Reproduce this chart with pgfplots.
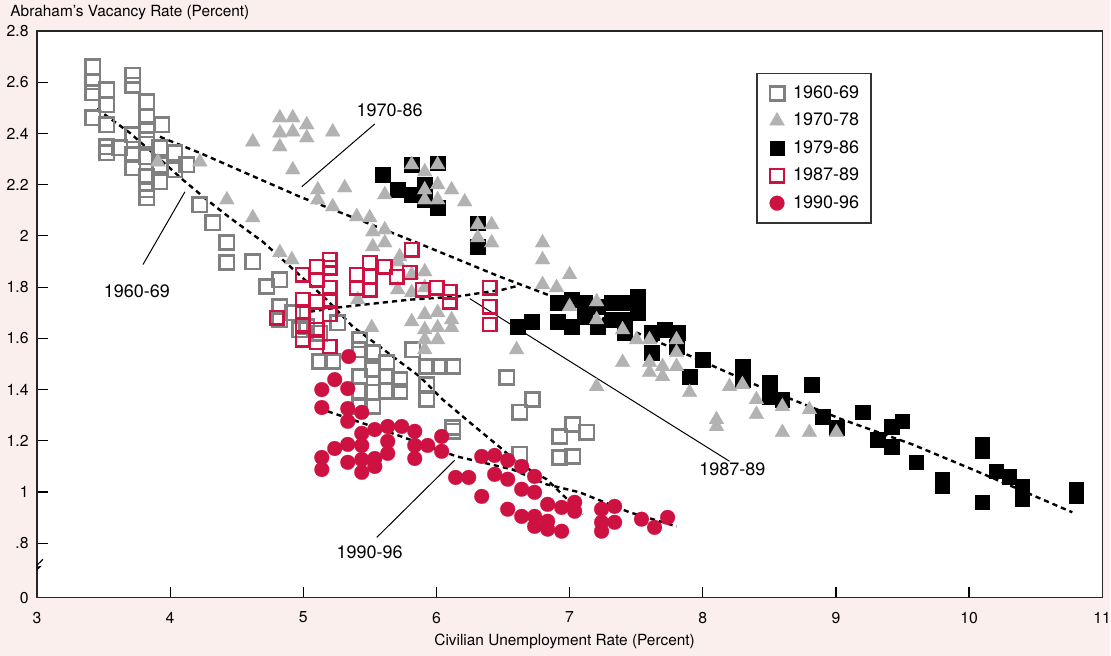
\documentclass[border=0pt]{standalone}
\usepackage{pgfplots}
\pgfplotsset{compat=1.18}
\usepackage{fontspec}
\setmainfont{TeX Gyre Heros}
\definecolor{bgpink}{RGB}{250,239,237}
\definecolor{crim}{RGB}{205,17,65}
\definecolor{sqgray}{RGB}{128,128,128}
\definecolor{trigray}{RGB}{178,178,178}
\pgfplotsset{myleg/.style={legend image code/.code={\draw[##1] plot coordinates {(0pt,0pt)};\path[draw=none,fill=none] (-6pt,0pt) coordinate (la) (6pt,0pt) coordinate (lb);}}}
\begin{document}
\begin{tikzpicture}
\fill[bgpink] (-18.5pt,-29pt) rectangle (537pt,299pt);
\begin{axis}[
  at={(0pt,0pt)}, anchor=south west, scale only axis,
  width=533pt, height=283.5pt,
  xmin=3, xmax=11, ymin=0.588, ymax=2.8,
  axis background/.style={fill=white},
  axis line style={draw=black!85, line width=0.7pt},
  tick pos=left, tick align=inside, major tick length=5.5pt,
  tick style={black, line width=0.6pt},
  xtick={3,4,5,6,7,8,9,10,11}, xticklabels={3,4,5,6,7,8,9,10,11},
  ytick={0.588,0.8,1,1.2,1.4,1.6,1.8,2,2.2,2.4,2.6,2.8},
  yticklabels={0,.8,1,1.2,1.4,1.6,1.8,2,2.2,2.4,2.6,2.8},
  ticklabel style={font=\fontsize{7.9}{9}\selectfont, inner sep=0pt},
  yticklabel style={xshift=-4pt},
  xticklabel style={yshift=-7pt},
  legend style={at={(0.6754,0.9259)}, anchor=north west, draw=black!80, line width=0.6pt, fill=white,
     font=\fontsize{9}{10}\selectfont, row sep=1.85pt, column sep=0pt, inner xsep=4pt, inner ysep=4pt},
  legend cell align=left,
]
\addlegendimage{only marks, mark=square, mark size=3.6pt, mark options={draw=sqgray, line width=1.3pt}, myleg}
\addlegendentry{1960-69}
\addlegendimage{only marks, mark=triangle*, mark size=4.3pt, mark options={fill=trigray, draw=trigray, line width=0.1pt}, myleg}
\addlegendentry{1970-78}
\addlegendimage{only marks, mark=square*, mark size=3.6pt, mark options={fill=black, draw=black, line width=0.1pt}, myleg}
\addlegendentry{1979-86}
\addlegendimage{only marks, mark=square, mark size=3.4pt, mark options={draw=crim, line width=1.15pt}, myleg}
\addlegendentry{1987-89}
\addlegendimage{only marks, mark=*, mark size=3.7pt, mark options={fill=crim, draw=crim, line width=0.1pt}, myleg}
\addlegendentry{1990-96}

% 1960-69
\addplot[only marks, forget plot, mark=square, mark size=3.6pt, mark options={draw=sqgray, line width=1.3pt}] coordinates {
(3.420,2.660) (3.420,2.601) (3.420,2.558) (3.420,2.461) (3.525,2.570) (3.525,2.512) (3.525,2.434)
(3.525,2.348) (3.525,2.324) (3.623,2.344) (3.720,2.628) (3.720,2.589) (3.720,2.395) (3.720,2.317)
(3.720,2.266) (3.826,2.523) (3.826,2.465) (3.826,2.414) (3.826,2.375) (3.826,2.309) (3.826,2.231)
(3.826,2.180) (3.826,2.149) (3.923,2.344) (3.923,2.278) (3.923,2.211) (3.938,2.434) (4.036,2.324)
(4.036,2.258) (4.126,2.278) (4.223,2.122) (4.321,2.051) (4.426,1.974) (4.426,1.896) (4.621,1.899)
(4.726,1.802) (4.824,1.829) (4.824,1.724) (4.824,1.673) (4.921,1.700) (4.974,1.634) (5.026,1.646)
(5.124,1.620) (5.260,1.660)
(5.124,1.510) (5.221,1.510) (5.424,1.595) (5.424,1.556) (5.522,1.545) (5.424,1.451) (5.522,1.478)
(5.627,1.506) (5.627,1.451) (5.724,1.439) (5.724,1.393) (5.522,1.389) (5.424,1.393) (5.627,1.393)
(5.424,1.334) (5.522,1.334) (5.822,1.556) (5.927,1.490) (5.927,1.420) (5.927,1.361) (6.024,1.490)
(6.122,1.490) (6.122,1.237) (6.122,1.252) (6.527,1.447) (6.625,1.311) (6.722,1.361) (6.625,1.147)
(6.925,1.217) (7.023,1.264) (7.128,1.233) (6.925,1.135) (7.023,1.139)
};
% 1979-86
\addplot[only marks, forget plot, mark=square*, mark size=3.6pt, mark options={fill=black, draw=black, line width=0.1pt}] coordinates {
(5.597,2.239) (5.709,2.180) (5.814,2.161) (5.912,2.141) (5.814,2.278) (6.009,2.285) (6.009,2.110)
(5.912,2.200) (6.310,2.051) (6.310,1.958) (6.610,1.646) (6.715,1.665) (6.910,1.740) (6.910,1.665)
(7.015,1.751) (7.015,1.646) (7.113,1.740) (7.113,1.685) (7.210,1.724) (7.210,1.646) (7.315,1.740)
(7.315,1.673) (7.413,1.740) (7.413,1.673) (7.413,1.623) (7.510,1.763) (7.510,1.701) (7.615,1.623)
(7.615,1.545) (7.713,1.634) (7.811,1.623) (7.803,1.568) (7.901,1.451) (7.998,1.517) (8.298,1.490)
(8.298,1.439) (8.501,1.428) (8.501,1.373) (8.598,1.361) (8.816,1.420) (8.899,1.295) (9.004,1.252)
(9.199,1.311) (9.312,1.205) (9.417,1.256) (9.417,1.178) (9.499,1.276) (9.604,1.116) (9.799,1.050)
(9.799,1.022) (10.099,1.186) (10.099,1.159) (10.204,1.081) (10.302,1.061) (10.400,1.022)
(10.400,0.972) (10.099,0.960) (10.805,1.011) (10.805,0.983)
};
% 1970-78
\addplot[only marks, forget plot, mark=triangle*, mark size=4.3pt, mark options={fill=trigray, draw=trigray, line width=0.1pt}] coordinates {
(3.908,2.289) (4.223,2.289) (4.426,2.141) (4.621,2.367) (4.621,2.071) (4.824,2.461) (4.921,2.461)
(5.026,2.434) (4.824,2.402) (4.921,2.406) (5.026,2.383) (4.824,2.348) (5.221,2.406) (4.921,2.258)
(5.109,2.180) (5.109,2.141) (5.221,2.114) (5.311,2.188) (5.402,2.075) (5.499,2.071) (5.522,2.016)
(5.522,1.958) (5.612,2.024) (5.612,1.973) (5.724,1.919) (5.612,2.161) (5.814,2.278) (5.912,2.250)
(6.009,2.278) (5.912,2.180) (6.009,2.200) (5.912,2.141) (6.009,2.141) (6.114,2.180) (6.212,2.133)
(6.310,2.044) (6.415,2.044) (6.310,1.993) (6.415,1.973) (4.824,1.935) (4.914,1.907) (5.709,1.899)
(5.814,1.849) (5.912,1.860) (5.814,1.779) (5.912,1.798) (5.709,1.790) (5.409,1.751) (5.514,1.642)
(5.814,1.665) (5.912,1.693) (6.009,1.701) (6.114,1.673) (5.912,1.634) (6.009,1.642) (6.114,1.642)
(5.912,1.595) (6.009,1.595) (5.912,1.556) (6.602,1.556) (6.797,1.973) (6.797,1.907) (7.000,1.849)
(6.797,1.810) (6.902,1.798) (7.000,1.724) (7.203,1.743) (7.203,1.673) (7.398,1.634) (7.503,1.595)
(7.600,1.595) (7.803,1.595) (7.803,1.545) (7.398,1.506) (7.600,1.506) (7.600,1.467) (7.698,1.490)
(7.698,1.451) (7.803,1.490) (7.203,1.412) (7.901,1.389) (8.201,1.412) (8.298,1.420) (8.403,1.361)
(8.403,1.303) (8.598,1.334) (8.103,1.283) (8.103,1.256) (8.598,1.233) (8.801,1.322) (8.801,1.233)
(9.004,1.233)
};
% 1987-89
\addplot[only marks, forget plot, mark=square, mark size=3.4pt, mark options={draw=crim, line width=1.15pt}] coordinates {
(4.801,1.681) (4.996,1.849) (4.996,1.751) (4.996,1.704) (4.996,1.654) (4.996,1.595) (5.101,1.880)
(5.101,1.829) (5.101,1.743) (5.101,1.634) (5.101,1.584) (5.199,1.907) (5.199,1.876) (5.199,1.798)
(5.199,1.751) (5.199,1.693) (5.199,1.568) (5.402,1.849) (5.402,1.798) (5.499,1.896) (5.499,1.841)
(5.499,1.790) (5.612,1.880) (5.702,1.841) (5.799,1.857) (5.814,1.946) (5.897,1.790) (6.002,1.798)
(6.099,1.782) (6.099,1.743) (6.400,1.798) (6.400,1.724) (6.400,1.654)
};
% 1990-96
\addplot[only marks, forget plot, mark=*, mark size=3.7pt, mark options={fill=crim, draw=crim, line width=0.1pt}] coordinates {
(5.341,1.529) (5.236,1.439) (5.139,1.400) (5.334,1.404) (5.139,1.330) (5.334,1.326) (5.439,1.311)
(5.334,1.276) (5.439,1.229) (5.537,1.244) (5.634,1.256) (5.739,1.256) (5.837,1.237) (6.039,1.217)
(5.934,1.182) (6.039,1.159) (5.837,1.182) (5.837,1.131) (5.634,1.198) (5.634,1.151) (5.439,1.182)
(5.439,1.127) (5.334,1.186) (5.236,1.170) (5.139,1.135) (5.139,1.088) (5.334,1.116) (5.537,1.131)
(5.537,1.100) (5.439,1.077) (6.144,1.057) (6.242,1.057) (6.340,1.139) (6.437,1.143) (6.535,1.124)
(6.640,1.100) (6.737,1.061) (6.340,0.983) (6.437,1.069) (6.535,1.050) (6.640,1.011) (6.737,0.999)
(6.535,0.933) (6.640,0.905) (6.737,0.905) (6.737,0.866) (6.835,0.952) (6.835,0.886) (6.835,0.855)
(6.940,0.940) (6.940,0.847) (7.038,0.960) (7.038,0.925) (7.240,0.933) (7.338,0.944) (7.240,0.882)
(7.240,0.847) (7.338,0.882) (7.540,0.894) (7.638,0.862) (7.736,0.901)
};
% fitted curves
\addplot[forget plot, mark=none, black, line width=1.2pt, dash pattern=on 2.6pt off 2pt] coordinates {
(3.450,2.496) (3.698,2.402) (3.946,2.289) (4.096,2.219) (4.276,2.141) (4.448,2.071) (4.696,1.977)
(4.951,1.857) (5.176,1.751) (5.371,1.646) (5.574,1.568) (5.672,1.529) (5.874,1.451) (6.047,1.361)
(6.250,1.272) (6.497,1.166) (6.602,1.116) (6.827,1.050) (7.100,0.913)
};
\addplot[forget plot, mark=none, black, line width=1.2pt, dash pattern=on 2.6pt off 2pt] coordinates {
(3.923,2.387) (4.223,2.324) (4.974,2.153) (5.477,2.051) (5.852,1.974) (6.475,1.841) (6.872,1.763)
(7.675,1.584) (8.426,1.412) (9.049,1.283) (9.574,1.186) (10.077,1.077) (10.775,0.921)
};
\addplot[forget plot, mark=none, black, line width=1.2pt, dash pattern=on 2.6pt off 2pt] coordinates {
(5.049,1.704) (5.251,1.720) (5.799,1.751) (6.152,1.763) (6.497,1.790) (6.610,1.805)
};
\addplot[forget plot, mark=none, black, line width=1.2pt, dash pattern=on 2.6pt off 2pt] coordinates {
(5.184,1.315) (5.649,1.233) (6.152,1.139) (6.572,1.088) (6.827,1.030) (7.075,0.999) (7.450,0.921) (7.803,0.866)
};
% annotations
\draw[line width=0.5pt] (axis cs:4.989,2.192) -- (axis cs:5.537,2.437);
\node[font=\fontsize{9}{10}\selectfont] at (axis cs:5.649,2.492) {1970-86};
\draw[line width=0.5pt] (axis cs:4.111,2.172) -- (axis cs:3.796,1.888);
\node[font=\fontsize{9}{10}\selectfont] at (axis cs:3.750,1.782) {1960-69};
\draw[line width=0.5pt] (axis cs:6.250,1.755) -- (axis cs:8.201,1.120);
\node[font=\fontsize{9}{10}\selectfont] at (axis cs:8.223,1.088) {1987-89};
\draw[line width=0.5pt] (axis cs:6.137,1.124) -- (axis cs:5.552,0.823);
\node[font=\fontsize{9}{10}\selectfont] at (axis cs:5.499,0.765) {1990-96};
% axis break
\draw[line width=0.6pt, black] (axis cs:3,0.706) ++(-3pt,-4pt) -- ++(4.5pt,4.3pt) -- ++(-3pt,-0.6pt) -- ++(4.5pt,4.3pt);
\end{axis}
\node[anchor=west, inner sep=0pt, font=\fontsize{7.7}{9}\selectfont] at (-13.5pt,292.5pt) {Abraham's Vacancy Rate (Percent)};
\node[inner sep=0pt, font=\fontsize{7.7}{9}\selectfont] at (264pt,-22pt) {Civilian Unemployment Rate (Percent)};
\end{tikzpicture}
\end{document}
